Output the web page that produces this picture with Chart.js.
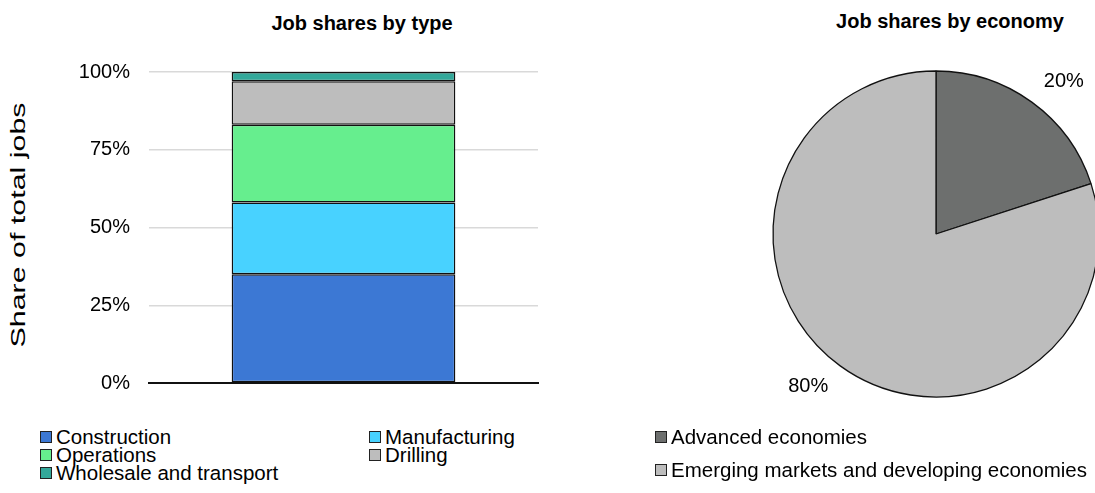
<!DOCTYPE html>
<html>
<head>
<meta charset="utf-8">
<script src="https://cdn.jsdelivr.net/npm/chart.js@4"></script>
<style>
  html, body { margin: 0; padding: 0; background: #fff; overflow: hidden; }
  body { width: 1095px; height: 493px; position: relative; font-family: "Liberation Sans", Arial, sans-serif; color: #000; }
  .title { position: absolute; font-weight: bold; font-size: 20px; transform: translate(-50%, -50%); white-space: nowrap; }
  .ytitle { position: absolute; font-size: 20px; white-space: nowrap; left: 18px; top: 225px; transform: translate(-50%, -50%) rotate(-90deg) scale(1.52, 1); }
  .leg { position: absolute; font-size: 20.5px; line-height: 20px; white-space: nowrap; display: flex; align-items: center; transform: translateY(-50%); }
  .leg span.box { display: inline-block; width: 10px; height: 10px; border: 1px solid #222; margin-right: 4px; }
  canvas { position: absolute; }
</style>
</head>
<body>
<div class="title" style="left:362px; top:23px;">Job shares by type</div>
<div class="title" style="left:950px; top:21px;">Job shares by economy</div>
<div class="ytitle">Share of total jobs</div>
<canvas id="bar" width="560" height="414" style="left:0; top:0; width:560px; height:414px;"></canvas>
<canvas id="pie" width="400" height="400" style="left:736px; top:34px; width:400px; height:400px;"></canvas>
<div id="legBar"></div>
<div id="legPie"></div>
<script>
// ---- Data ----
const barCategories = ["Total"];
const typeLabels = ["Construction", "Manufacturing", "Operations", "Drilling", "Wholesale and transport"];
const typeShares = [35, 23, 25, 14, 3];
const typeColors = ["#3c78d4", "#48d2ff", "#66ee8e", "#bdbdbd", "#33a89a"];
const yTicks = [0, 25, 50, 75, 100];

const economyLabels = ["Advanced economies", "Emerging markets and developing economies"];
const economyShares = [20, 80];
const economyColors = ["#6d6f6e", "#bdbdbd"];

const FONT = '"Liberation Sans", Arial, sans-serif';

// ---- Bar chart ----
new Chart(document.getElementById('bar'), {
  type: 'bar',
  data: {
    labels: barCategories,
    datasets: typeLabels.map((lab, i) => ({
      label: lab,
      data: [typeShares[i]],
      backgroundColor: typeColors[i],
      borderColor: '#111',
      borderWidth: 1.5,
      borderSkipped: false,
      categoryPercentage: 1,
      barPercentage: 0.575
    }))
  },
  options: {
    responsive: false,
    animation: false,
    devicePixelRatio: 1,
    layout: { padding: { left: 0, right: 22, top: 72, bottom: 6 } },
    plugins: { legend: { display: false }, tooltip: { enabled: false }, title: { display: false } },
    scales: {
      x: {
        stacked: true,
        ticks: { display: false },
        grid: { display: false },
        border: { display: true, color: '#111', width: 2 },
        afterFit: s => { s.height = 0; }
      },
      y: {
        stacked: true,
        min: 0, max: 100,
        afterBuildTicks: s => { s.ticks = yTicks.map(v => ({ value: v })); },
        ticks: { callback: v => v + '%', color: '#000', font: { family: FONT, size: 20 }, padding: 19 },
        grid: { color: '#d9d9d9', lineWidth: 1.5, drawTicks: false },
        border: { display: false },
        title: { display: false },
        afterFit: s => { s.width = 149; }
      }
    }
  }
});

// ---- Pie chart ----
const pieLabelPlugin = {
  id: 'pieLabels',
  afterDatasetsDraw(chart) {
    const ctx = chart.ctx;
    const meta = chart.getDatasetMeta(0);
    ctx.save();
    ctx.font = '20px ' + FONT;
    ctx.fillStyle = '#000';
    ctx.textAlign = 'center';
    ctx.textBaseline = 'middle';
    meta.data.forEach((arc, i) => {
      const mid = (arc.startAngle + arc.endAngle) / 2 + 0.07;
      const r = arc.outerRadius * 1.22;
      const x = arc.x + Math.cos(mid) * r;
      const y = arc.y + Math.sin(mid) * r;
      ctx.fillText(economyShares[i] + '%', x, y);
    });
    ctx.restore();
  }
};

new Chart(document.getElementById('pie'), {
  type: 'pie',
  data: {
    labels: economyLabels,
    datasets: [{
      data: economyShares,
      backgroundColor: economyColors,
      borderColor: '#111',
      borderWidth: 1.3,
      radius: 163
    }]
  },
  options: {
    responsive: false,
    animation: false,
    devicePixelRatio: 1,
    layout: { padding: 0 },
    plugins: { legend: { display: false }, tooltip: { enabled: false } }
  },
  plugins: [pieLabelPlugin]
});

// ---- Legends (HTML) ----
function addLegend(containerId, labels, colors, positions) {
  const c = document.getElementById(containerId);
  labels.forEach((lab, i) => {
    const d = document.createElement('div');
    d.className = 'leg';
    d.style.left = positions[i][0] + 'px';
    d.style.top = positions[i][1] + 'px';
    const b = document.createElement('span');
    b.className = 'box';
    b.style.background = colors[i];
    d.appendChild(b);
    d.appendChild(document.createTextNode(lab));
    c.appendChild(d);
  });
}
addLegend('legBar', typeLabels, typeColors, [[40, 437], [369, 437], [40, 455], [369, 455], [40, 473]]);
addLegend('legPie', economyLabels, economyColors, [[655, 437], [655, 470]]);
</script>
</body>
</html>
